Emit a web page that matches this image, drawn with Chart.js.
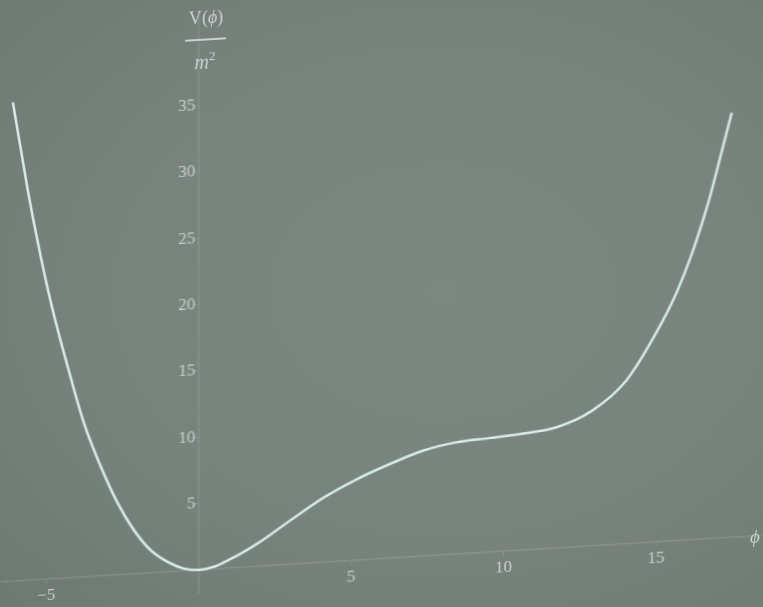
<!DOCTYPE html>
<html>
<head>
<meta charset="utf-8">
<script src="https://cdn.jsdelivr.net/npm/chart.js@4.4.1/dist/chart.umd.min.js"></script>
<style>
  html, body {
    margin: 0; padding: 0; width: 763px; height: 607px; overflow: hidden;
    background: radial-gradient(ellipse 80% 75% at 58% 48%, #7c8781 0%, #78837d 55%, #6e7973 100%);
  }
  #stage {
    position: absolute; left: 0; top: 0; width: 763px; height: 607px;
    transform-origin: 198px 570px;
    transform: skewY(-3.5deg);
  }
  #stage canvas { position: absolute; left: 0; top: 0; }
  .lbl {
    position: absolute; color: #c8d2cd; white-space: nowrap;
    font-family: "Liberation Serif", "DejaVu Serif", serif;
  }
  #vlab { left: 166px; top: 6px; width: 80px; text-align: center; font-size: 18px; line-height: 24px; }
  #vbar { position: absolute; left: 185px; top: 39px; width: 41px; height: 2px; background: #c8d2cd; }
  #mlab { left: 165px; top: 44px; width: 80px; text-align: center; font-size: 20px; line-height: 26px; font-style: italic; }
  #mlab sup { font-style: normal; font-size: 13px; }
  #plab { left: 750px; top: 560px; font-size: 19px; font-style: italic; }
</style>
</head>
<body>
<div id="stage">
  <canvas id="chart" width="763" height="607"></canvas>
  <div class="lbl" id="vlab">V(<i>ϕ</i>)</div>
  <div id="vbar"></div>
  <div class="lbl" id="mlab">m<sup>2</sup></div>
  <div class="lbl" id="plab">ϕ</div>
</div>
<script>
// Field values ϕ and the potential V(ϕ)/m² along the curve
const phiValues = [-6.09, -5.60, -5.27, -4.84, -4.29, -3.76, -3.20, -2.65, -2.12, -1.57,
                   -1.01, -0.50, 0.00, 0.50, 1.05, 1.50, 1.93, 3.01, 4.08, 5.20, 6.27,
                   7.35, 8.46, 9.54, 10.62, 11.73, 12.91, 14.02, 15.10, 15.65, 16.18,
                   16.73, 17.16, 17.48];
const potentialValues = [36.1, 29.4, 25.4, 20.8, 15.9, 11.6, 8.2, 5.4, 3.3, 1.7,
                         0.74, 0.18, 0.0, 0.17, 0.68, 1.18, 1.72, 3.32, 4.85, 6.12, 7.1,
                         7.95, 8.43, 8.6, 8.78, 9.1, 10.2, 12.3, 16.15, 18.6, 21.6,
                         25.5, 29.2, 32.0];

// Tick labels on the two axes
const xTickValues = [-5, 5, 10, 15];
const yTickValues = [5, 10, 15, 20, 25, 30, 35];

const textColor = '#c8d2cd';
const axisColor = 'rgba(225, 238, 232, 0.15)';
const tickFont = { family: '"Liberation Serif", "DejaVu Serif", serif', size: 17 };

// Origin of the axes on the canvas and the pixel size of one unit on each axis
const originX = 198, originY = 570, pxPerPhi = 30.6, pxPerV = 13.27;

const chart = new Chart(document.getElementById('chart'), {
  type: 'line',
  data: {
    datasets: [{
      data: phiValues.map((p, i) => ({ x: p, y: potentialValues[i] })),
      borderColor: '#d7eee6',
      borderWidth: 2.5,
      pointRadius: 0,
      cubicInterpolationMode: 'monotone',
      fill: false
    }]
  },
  options: {
    responsive: false,
    animation: false,
    events: [],
    layout: { padding: 0 },
    plugins: { legend: { display: false }, tooltip: { enabled: false } },
    scales: {
      x: {
        type: 'linear',
        position: { y: 0 },
        min: -6.4, max: 18.4,
        afterBuildTicks: s => { s.ticks = xTickValues.map(v => ({ value: v })); },
        ticks: { color: textColor, font: tickFont, padding: 2, maxRotation: 0,
                 callback: v => String(v).replace('-', '\u2212') },
        grid: { drawOnChartArea: false, drawTicks: true, tickLength: 4, tickColor: axisColor },
        border: { display: true, color: axisColor, width: 1.5 }
      },
      y: {
        type: 'linear',
        position: { x: 0 },
        min: -2.8, max: 43,
        afterBuildTicks: s => { s.ticks = yTickValues.map(v => ({ value: v })); },
        ticks: { color: textColor, font: tickFont, callback: v => v + '\u2009' },
        grid: { drawOnChartArea: false, drawTicks: true, tickLength: 4, tickColor: axisColor },
        border: { display: true, color: axisColor, width: 1.5 }
      }
    }
  }
});

// Fit the axis ranges to the laid-out plot area so the origin and unit sizes land where intended
const area = chart.chartArea;
chart.options.scales.x.min = -(originX - area.left) / pxPerPhi;
chart.options.scales.x.max = (area.right - originX) / pxPerPhi;
chart.options.scales.y.min = -(area.bottom - originY) / pxPerV;
chart.options.scales.y.max = (originY - area.top) / pxPerV;
chart.update();
</script>
</body>
</html>
